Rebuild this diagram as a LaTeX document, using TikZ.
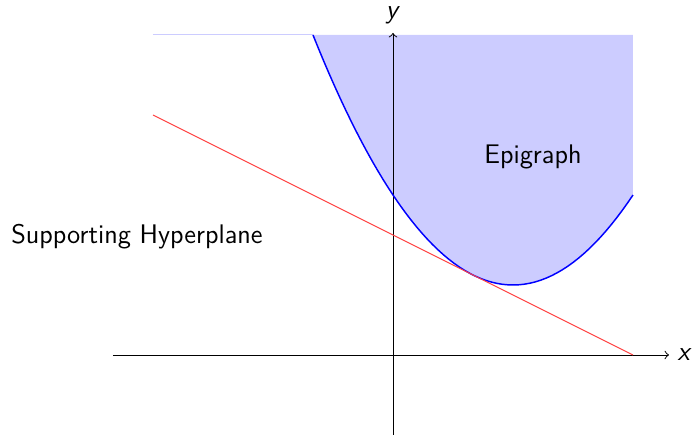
\documentclass[tikz,border=0pt]{standalone}
\usepackage{tikz}
\begin{document}
\begin{tikzpicture}[x=0.575cm,y=0.575cm,font=\sffamily\fontsize{11}{13}\selectfont,
  epi/.style={fill=blue!20},
  curve/.style={blue,semithick},
  plane/.style={red!75!white},
  axis/.style={->}]
\def\xmin{-6}
\def\xmax{6}
\def\ytop{8}

%% Fixed frame (reference proportions)
\useasboundingbox (-9.825,-2) rectangle (7.65,8.875);

%% Epigraph of f(x) = x^2/4 - 3x/2 + 4 (vertex (3,1.75))
\fill[epi] (-2,\ytop) -- plot[domain=-2:\xmax,samples=60] (\x,{0.25*\x*\x-1.5*\x+4}) -- (\xmax,\ytop) -- cycle;
\draw[blue!20, thin] (\xmin,\ytop) -- (-2,\ytop);

%% Axes
\coordinate (xl) at (-7,0);
\coordinate (xr) at (6.9,0);
\coordinate (yb) at (0,-2);
\coordinate (yt) at (0,8.05);
\draw[axis] (xl) -- (xr) node[right] (xlab) {\textit{x}};
\draw[axis] (yb) -- (yt) node[above] (ylab) {\textit{y}};

%% Function
\draw[curve] plot[domain=-2:\xmax,samples=60] (\x,{0.25*\x*\x-1.5*\x+4});

%% Supporting line, tangent at x = 2
\coordinate (pa) at (\xmin,6);
\coordinate (pb) at (\xmax,0);
\draw[plane] (pa) -- (pb);

%% Labels
\node (epilab) at (3.5,4.95) {Epigraph};
\node (hyplab) at (-6.4,2.95) {Supporting Hyperplane};

\end{tikzpicture}
\end{document}
